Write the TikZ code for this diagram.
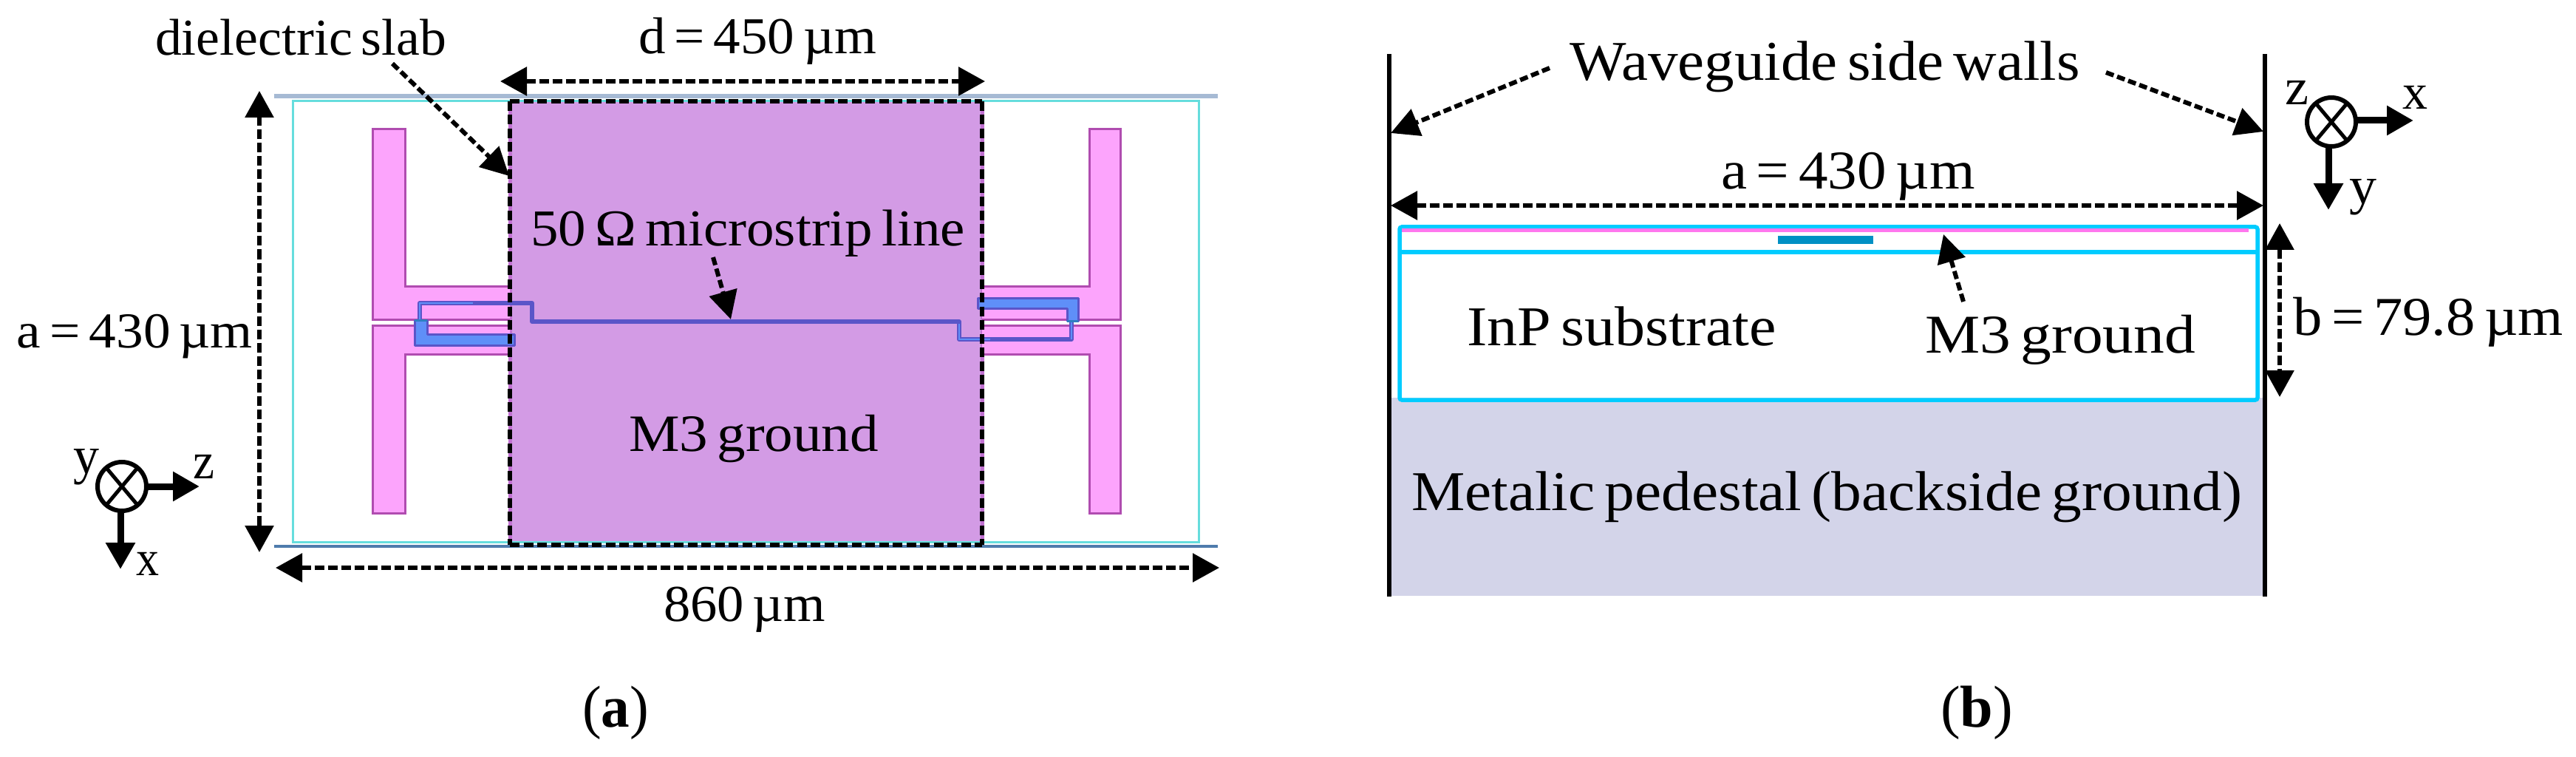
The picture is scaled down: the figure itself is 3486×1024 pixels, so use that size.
\documentclass[tikz,border=0pt]{standalone}
\usepackage{fontspec}
\usepackage{graphicx}
\setmainfont[WordSpace=0.65]{Liberation Serif}
\usetikzlibrary{arrows.meta}
\definecolor{gridtop}{HTML}{A6BAD4}
\definecolor{gridbot}{HTML}{4F7CAC}
\definecolor{slabcy}{HTML}{66DDDD}
\definecolor{m3fill}{HTML}{D39BE5}
\definecolor{m3edge}{HTML}{C070D0}
\definecolor{hfill}{HTML}{FCA4FC}
\definecolor{hedge}{HTML}{B04CB0}
\definecolor{bfill}{HTML}{5F8FF8}
\definecolor{bedge}{HTML}{5A55C8}
\definecolor{bjoint}{HTML}{2F7FC0}
\definecolor{pedest}{HTML}{D3D4E9}
\definecolor{boxcy}{HTML}{00CCFF}
\definecolor{m3line}{HTML}{FF77EE}
\definecolor{stripb}{HTML}{0090C4}
\newcommand{\fitw}[3]{\fontsize{#2}{#2}\selectfont\resizebox{#1pt}{\height}{#3}}
\tikzset{
  x=1pt,y=-1pt,
  lab/.style={anchor=base west,inner sep=0pt,outer sep=0pt,text=black},
  dimline/.style={draw=black,line width=6pt,dash pattern=on 13pt off 5pt,
    {Triangle[length=36pt,width=38pt]}-{Triangle[length=36pt,width=38pt]}},
  callout/.style={draw=black,line width=6pt,dash pattern=on 11pt off 5pt,
    -{Triangle[length=38pt,width=38pt]}},
  hshape/.style={fill=hfill,draw=hedge,line width=3pt,line join=miter},
  axisarrow/.style={draw=black,line width=9pt,-{Triangle[length=36pt,width=38pt]}},
  axisring/.style={draw=black,circle,line width=6pt,minimum size=66pt,inner sep=0pt,outer sep=0pt},
  crossline/.style={draw=black,line width=5pt},
  wall/.style={draw=black,line width=5.5pt},
  cybox/.style={draw=boxcy,line width=5.5pt},
}
\begin{document}
\begin{tikzpicture}
\useasboundingbox (0,0) rectangle (3486,1024);
\fill[white] (0,0) rectangle (3486,1024);

% ---------- panel (a) ----------
\draw[gridtop,line width=6pt] (371,130) -- (1648,130);
\draw[gridbot,line width=3.5pt] (371,739) -- (1648,739);
\fill[m3fill] (690,137) rectangle (1329,733);
\draw[m3edge,line width=5pt] (690,137) -- (690,733) (1329,137) -- (1329,733);
\draw[slabcy,line width=3pt] (396,137) rectangle (1622,733);

\draw[hshape] (690,387) -- (548,387) -- (548,175) -- (504,175) -- (504,432) -- (690,432);
\draw[hshape] (690,440) -- (504,440) -- (504,694) -- (548,694) -- (548,479) -- (690,479);
\draw[hshape] (1329,387) -- (1474,387) -- (1474,175) -- (1516,175) -- (1516,432) -- (1329,432);
\draw[hshape] (1329,440) -- (1516,440) -- (1516,694) -- (1474,694) -- (1474,479) -- (1329,479);

\draw[bedge,line width=6pt,line join=round] (568,436) -- (568,410) -- (720,410) -- (720,435) -- (1298,435) -- (1298,459) -- (1450,459) -- (1450,436);
\draw[bfill,line width=2pt] (568,434) -- (568,410) -- (640,410);
\draw[bfill,line width=2pt] (1298,438) -- (1298,459) -- (1340,459);
\draw[bfill,line width=2pt] (1450,459) -- (1450,436);
\draw[fill=bfill,draw=bedge,line width=3pt,line join=round] (561,433) -- (578,433) -- (578,452) -- (696,452) -- (696,467) -- (561,467) -- cycle;
\draw[fill=bfill,draw=bedge,line width=3pt,line join=round] (1323,403) -- (1459,403) -- (1459,434) -- (1444,434) -- (1444,417) -- (1323,417) -- cycle;
\draw[bjoint,line width=3pt] (561,433) -- (578,433);
\draw[bjoint,line width=3pt] (1444,434) -- (1459,434);

\draw[draw=black,line width=5.5pt,dash pattern=on 13pt off 5.5pt] (690,137) -- (1329,137);
\draw[draw=black,line width=5.5pt,dash pattern=on 13pt off 5.5pt] (690,737) -- (1329,737);
\draw[draw=black,line width=5.5pt,dash pattern=on 13pt off 5.5pt] (690,137) -- (690,737);
\draw[draw=black,line width=5.5pt,dash pattern=on 13pt off 5.5pt] (1329,137) -- (1329,737);

\node[lab] (tslab) at (210,75) {\fitw{394}{70}{dielectric slab}};
\node[lab] (td) at (864,73) {\fitw{322}{70}{d = 450 µm}};
\node[lab] (taL) at (23,470) {\fitw{319}{68}{a = 430 µm}};
\node[lab] (t50) at (718,332) {\fitw{588}{70}{50 Ω microstrip line}};
\node[lab] (tm3a) at (851,610) {\fitw{338}{71}{M3 ground}};
\node[lab] (t860) at (898,840) {\fitw{219}{70}{860 µm}};
\node[lab] (tcapa) at (788,983) {\fitw{90}{80}{(\textbf{a})}};

\coordinate (dL) at (677,110);
\coordinate (dR) at (1333,110);
\coordinate (aT) at (351,123);
\coordinate (aB) at (351,747);
\coordinate (wL) at (373,768);
\coordinate (wR) at (1650,768);
\coordinate (slabS) at (531,86);
\coordinate (slabE) at (689,238);
\coordinate (msS) at (965,348);
\coordinate (msE) at (989,432);
\draw[dimline] (dL) -- (dR);
\draw[dimline] (aT) -- (aB);
\draw[dimline] (wL) -- (wR);
\draw[callout] (slabS) -- (slabE);
\draw[callout] (msS) -- (msE);

\node[axisring] (ringA) at (165,658) {};
\draw[crossline] (ringA.50) -- (ringA.230);
\draw[crossline] (ringA.130) -- (ringA.310);
\coordinate (zTip) at (270,658);
\coordinate (xTip) at (163,770);
\draw[axisarrow] (ringA.east) -- (zTip);
\draw[axisarrow] (ringA.south -| xTip) -- (xTip);
\node[lab] (ty1) at (99,640) {\fitw{35}{72}{y}};
\node[lab] (tz1) at (261,647) {\fitw{29}{70}{z}};
\node[lab] (tx1) at (184,778) {\fitw{31}{68}{x}};

% ---------- panel (b) ----------
\fill[pedest] (1880,538) rectangle (3065,806);
\draw[wall] (1880,73) -- (1880,807);
\draw[wall] (3065,73) -- (3065,807);
\draw[cybox,rounded corners=3pt] (1894,307) rectangle (3055,541);
\draw[cybox] (1894,341) -- (3055,341);
\draw[m3line,line width=5pt] (1897,312) -- (3043,312);
\fill[stripb] (2406,319) rectangle (2535,330);

\node[lab] (twg) at (2124,109) {\fitw{691}{76}{Waveguide side walls}};
\node[lab] (tab) at (2329,256) {\fitw{344}{74}{a = 430 µm}};
\node[lab] (tinp) at (1985,467) {\fitw{419}{76}{InP substrate}};
\node[lab] (tm3b) at (2605,477) {\fitw{366}{74}{M3 ground}};
\node[lab] (tb) at (3103,453) {\fitw{366}{74}{b = 79.8 µm}};
\node[lab] (tped) at (1910,690) {\fitw{1124}{76}{Metalic pedestal (backside ground)}};
\node[lab] (tcapb) at (2626,983) {\fitw{98}{80}{(\textbf{b})}};

\coordinate (a2L) at (1882,278);
\coordinate (a2R) at (3063,278);
\coordinate (bT) at (3085,302);
\coordinate (bB) at (3085,537);
\coordinate (wgLs) at (2097,92);
\coordinate (wgLe) at (1882,180);
\coordinate (wgRs) at (2850,98);
\coordinate (wgRe) at (3063,178);
\coordinate (m3s) at (2657,408);
\coordinate (m3e) at (2630,317);
\draw[dimline] (a2L) -- (a2R);
\draw[dimline] (bT) -- (bB);
\draw[callout] (wgLs) -- (wgLe);
\draw[callout] (wgRs) -- (wgRe);
\draw[callout] (m3s) -- (m3e);

\node[axisring] (ringB) at (3155,165) {};
\draw[crossline] (ringB.50) -- (ringB.230);
\draw[crossline] (ringB.130) -- (ringB.310);
\coordinate (xTipB) at (3266,163);
\coordinate (yTipB) at (3151,284);
\draw[axisarrow] (ringB.east |- xTipB) -- (xTipB);
\draw[axisarrow] (ringB.south -| yTipB) -- (yTipB);
\node[lab] (tzb) at (3092,142) {\fitw{32}{70}{z}};
\node[lab] (txb) at (3251,148) {\fitw{34}{68}{x}};
\node[lab] (tyb) at (3179,276) {\fitw{37}{72}{y}};
\end{tikzpicture}
\end{document}
